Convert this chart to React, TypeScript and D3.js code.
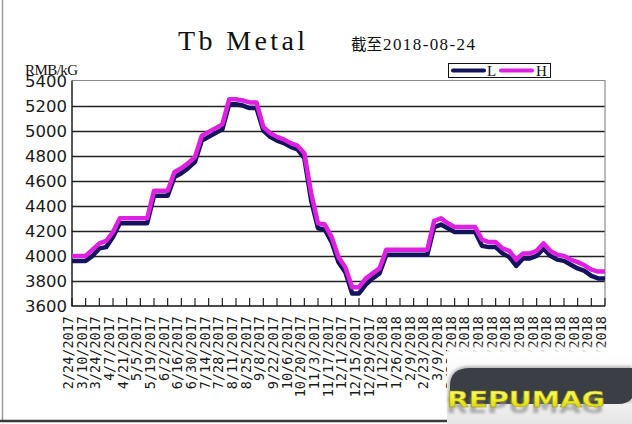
import React, { useEffect, useRef } from 'react';
import * as d3 from 'd3';

// biweekly axis labels (one per tick)
const tickLabels = [
  '2/24/2017', '3/10/2017', '3/24/2017', '4/7/2017', '4/21/2017', '5/5/2017', '5/19/2017',
  '6/2/2017', '6/16/2017', '6/30/2017', '7/14/2017', '7/28/2017', '8/11/2017', '8/25/2017',
  '9/8/2017', '9/22/2017', '10/6/2017', '10/20/2017', '11/3/2017', '11/17/2017', '12/1/2017',
  '12/15/2017', '12/29/2017', '1/12/2018', '1/26/2018', '2/9/2018', '2/23/2018', '3/9/2018',
  '3/23/2018', '4/6/2018', '4/20/2018', '5/4/2018', '5/18/2018', '6/1/2018', '6/15/2018',
  '6/29/2018', '7/13/2018', '7/27/2018', '8/10/2018', '8/24/2018'
];

// weekly prices, RMB/kg
const highPrices = [
  4000, 4000, 4000, 4050, 4100, 4120, 4190, 4300, 4300, 4300,
  4300, 4300, 4520, 4520, 4520, 4670, 4700, 4740, 4790, 4960,
  4990, 5020, 5050, 5250, 5250, 5240, 5225, 5225, 5030, 4980,
  4950, 4930, 4900, 4880, 4820, 4500, 4260, 4250, 4150, 3990,
  3910, 3750, 3750, 3820, 3860, 3900, 4050, 4050, 4050, 4050,
  4050, 4050, 4050, 4280, 4300, 4260, 4230, 4230, 4230, 4230,
  4130, 4110, 4110, 4060, 4040, 3970, 4020, 4020, 4040, 4100,
  4040, 4010, 4000, 3970, 3950, 3925, 3890, 3875, 3875
];

const lowPrices = [
  3960, 3960, 3960, 4000, 4060, 4070, 4150, 4260, 4260, 4260,
  4260, 4260, 4480, 4480, 4480, 4630, 4660, 4700, 4750, 4920,
  4950, 4980, 5010, 5210, 5210, 5200, 5180, 5180, 5000, 4950,
  4920, 4900, 4870, 4850, 4780, 4440, 4220, 4210, 4110, 3950,
  3870, 3700, 3700, 3770, 3820, 3860, 4010, 4010, 4010, 4010,
  4010, 4010, 4010, 4230, 4250, 4220, 4190, 4190, 4190, 4190,
  4080, 4070, 4070, 4020, 3990, 3920, 3980, 3980, 4000, 4060,
  4000, 3970, 3960, 3930, 3900, 3880, 3840, 3820, 3820
];

const yTicks = [3600, 3800, 4000, 4200, 4400, 4600, 4800, 5000, 5200, 5400];

const W = 632;
const H = 424;
const SERIF = '"Liberation Serif", "DejaVu Serif", serif';

const App: React.FC = () => {
  const svgRef = useRef<SVGSVGElement>(null);

  useEffect(() => {
    if (!svgRef.current) return;
    const svg = d3.select(svgRef.current);
    svg.selectAll('*').remove();

    const plot = { left: 72, right: 605, top: 80.5, bottom: 306 };

    const x = d3.scaleLinear()
      .domain([0, highPrices.length - 1])
      .range([plot.left, plot.right]);

    const y = d3.scaleLinear()
      .domain([3600, 5400])
      .range([plot.bottom, plot.top]);

    const defs = svg.append('defs');
    const fade = defs.append('linearGradient')
      .attr('id', 'fade').attr('x1', 0).attr('y1', 0).attr('x2', 0).attr('y2', 1);
    fade.append('stop').attr('offset', '0').attr('stop-color', '#fff').attr('stop-opacity', 0);
    fade.append('stop').attr('offset', '0.12').attr('stop-color', '#fff').attr('stop-opacity', 1);
    fade.append('stop').attr('offset', '0.7').attr('stop-color', '#f4f4f4').attr('stop-opacity', 1);
    fade.append('stop').attr('offset', '1').attr('stop-color', '#e4e4e4').attr('stop-opacity', 1);

    const yellow = defs.append('linearGradient')
      .attr('id', 'yellow').attr('x1', 0).attr('y1', 0).attr('x2', 0).attr('y2', 1);
    yellow.append('stop').attr('offset', '0').attr('stop-color', '#fbfb7a');
    yellow.append('stop').attr('offset', '0.5').attr('stop-color', '#eeee2a');
    yellow.append('stop').attr('offset', '1').attr('stop-color', '#c9c40a');

    const blur = defs.append('filter').attr('id', 'blur')
      .attr('x', '-20%').attr('y', '-50%').attr('width', '140%').attr('height', '200%');
    blur.append('feGaussianBlur').attr('stdDeviation', 1.6);

    svg.append('rect').attr('width', W).attr('height', H).attr('fill', '#fff');

    // outer frame
    svg.append('line')
      .attr('x1', 2.5).attr('x2', 2.5).attr('y1', 0).attr('y2', 421)
      .attr('stroke', '#9a9a9a').attr('stroke-width', 1.5);
    svg.append('line')
      .attr('x1', 0).attr('x2', 447).attr('y1', 421).attr('y2', 421)
      .attr('stroke', '#3a3a3a').attr('stroke-width', 2.5);

    // title
    svg.append('text')
      .attr('x', 178).attr('y', 50)
      .attr('font-family', SERIF)
      .attr('font-size', 28)
      .attr('textLength', 127).attr('lengthAdjust', 'spacing')
      .attr('fill', '#111')
      .text('Tb Metal');

    svg.append('text')
      .attr('x', 351).attr('y', 50)
      .attr('font-family', '"Noto Sans CJK SC", sans-serif')
      .attr('font-size', 15.5)
      .attr('fill', '#111')
      .text('截至');
    svg.append('text')
      .attr('x', 383).attr('y', 50)
      .attr('font-family', SERIF)
      .attr('font-size', 17)
      .attr('textLength', 92).attr('lengthAdjust', 'spacing')
      .attr('fill', '#111')
      .text('2018-08-24');

    svg.append('text')
      .attr('x', 25).attr('y', 75)
      .attr('font-family', SERIF)
      .attr('font-size', 15)
      .attr('textLength', 53).attr('lengthAdjust', 'spacing')
      .attr('fill', '#111')
      .text('RMB/kG');

    // gridlines
    svg.append('g')
      .selectAll('line')
      .data(yTicks.slice(1, -1))
      .join('line')
      .attr('x1', plot.left).attr('x2', plot.right)
      .attr('y1', d => Math.round(y(d)) + 0.5).attr('y2', d => Math.round(y(d)) + 0.5)
      .attr('stroke', '#222').attr('stroke-width', 1.3);

    // plot border (top / right lighter)
    svg.append('path')
      .attr('d', `M${plot.left},${plot.top} H${plot.right} V${plot.bottom}`)
      .attr('fill', 'none').attr('stroke', '#8c8c8c').attr('stroke-width', 1.2);

    // axes
    svg.append('path')
      .attr('d', `M${plot.left},${plot.top} V${plot.bottom} H${plot.right}`)
      .attr('fill', 'none').attr('stroke', '#111').attr('stroke-width', 1.4);

    svg.append('g')
      .selectAll('line')
      .data(tickLabels)
      .join('line')
      .attr('x1', (_, i) => x(i * 2)).attr('x2', (_, i) => x(i * 2))
      .attr('y1', plot.bottom).attr('y2', plot.bottom - 8)
      .attr('stroke', '#111').attr('stroke-width', 1.1);

    // y labels
    svg.append('g')
      .selectAll('text')
      .data(yTicks)
      .join('text')
      .attr('x', 67)
      .attr('y', d => y(d) + 6)
      .attr('text-anchor', 'end')
      .attr('font-family', '"DejaVu Sans", sans-serif')
      .attr('font-size', 16.5)
      .attr('fill', '#1a1a1a')
      .text(d => d);

    // x labels, rotated
    svg.append('g')
      .selectAll('text')
      .data(tickLabels)
      .join('text')
      .attr('transform', (_, i) => `translate(${x(i * 2) + 1},316) rotate(-90)`)
      .attr('text-anchor', 'end')
      .attr('font-family', '"DejaVu Sans Mono", monospace')
      .attr('font-size', 13.5)
      .attr('fill', '#1a1a1a')
      .text(d => d);

    // series
    const line = d3.line<number>()
      .x((_, i) => x(i))
      .y(d => y(d));

    svg.append('path')
      .datum(lowPrices)
      .attr('d', line)
      .attr('fill', 'none')
      .attr('stroke', '#14145e')
      .attr('stroke-width', 4.5)
      .attr('stroke-linejoin', 'round');

    svg.append('path')
      .datum(highPrices)
      .attr('d', line)
      .attr('fill', 'none')
      .attr('stroke', '#e020e0')
      .attr('stroke-width', 4.5)
      .attr('stroke-linejoin', 'round');

    // legend
    const lg = svg.append('g');
    lg.append('rect')
      .attr('x', 448.5).attr('y', 63.5).attr('width', 102).attr('height', 14)
      .attr('fill', '#fff').attr('stroke', '#111').attr('stroke-width', 1);
    lg.append('line')
      .attr('x1', 453).attr('x2', 484).attr('y1', 70.5).attr('y2', 70.5)
      .attr('stroke', '#14145e').attr('stroke-width', 4).attr('stroke-linecap', 'round');
    lg.append('text')
      .attr('x', 487).attr('y', 76)
      .attr('font-family', SERIF)
      .attr('font-size', 15).attr('fill', '#111')
      .text('L');
    lg.append('line')
      .attr('x1', 501).attr('x2', 532).attr('y1', 70.5).attr('y2', 70.5)
      .attr('stroke', '#e020e0').attr('stroke-width', 4).attr('stroke-linecap', 'round');
    lg.append('text')
      .attr('x', 536).attr('y', 76)
      .attr('font-family', SERIF)
      .attr('font-size', 15).attr('fill', '#111')
      .text('H');

    // watermark logo over the lower right corner
    const logo = svg.append('g');
    logo.append('rect')
      .attr('x', 447).attr('y', 343).attr('width', W - 447).attr('height', H - 343)
      .attr('fill', 'url(#fade)');
    logo.append('path')
      .attr('d', 'M448,402 V388 Q448,366 470,366 H632 V402 Z')
      .attr('fill', '#b8b8b8')
      .attr('filter', 'url(#blur)');
    logo.append('path')
      .attr('d', 'M450,400 V386 Q450,368 470,368 H632 V398 Q628,404 618,404 H450 Z')
      .attr('fill', '#3b3e44');
    logo.append('text')
      .attr('x', 446).attr('y', 413)
      .attr('textLength', 158).attr('lengthAdjust', 'spacingAndGlyphs')
      .attr('font-family', '"DejaVu Sans", sans-serif')
      .attr('font-weight', 'bold')
      .attr('font-size', 21)
      .attr('fill', '#8a8a8a')
      .attr('opacity', 0.7)
      .attr('filter', 'url(#blur)')
      .text('REPUMAG');
    logo.append('text')
      .attr('x', 447).attr('y', 407)
      .attr('textLength', 158).attr('lengthAdjust', 'spacingAndGlyphs')
      .attr('font-family', '"DejaVu Sans", sans-serif')
      .attr('font-weight', 'bold')
      .attr('font-size', 21)
      .attr('fill', 'url(#yellow)')
      .attr('stroke', '#9a9400')
      .attr('stroke-width', 0.5)
      .text('REPUMAG');
  }, []);

  return (
    <svg
      ref={svgRef}
      width={W}
      height={H}
      viewBox={`0 0 ${W} ${H}`}
      style={{ position: 'fixed', left: 0, top: 0, display: 'block' }}
    />
  );
};

export default App;
